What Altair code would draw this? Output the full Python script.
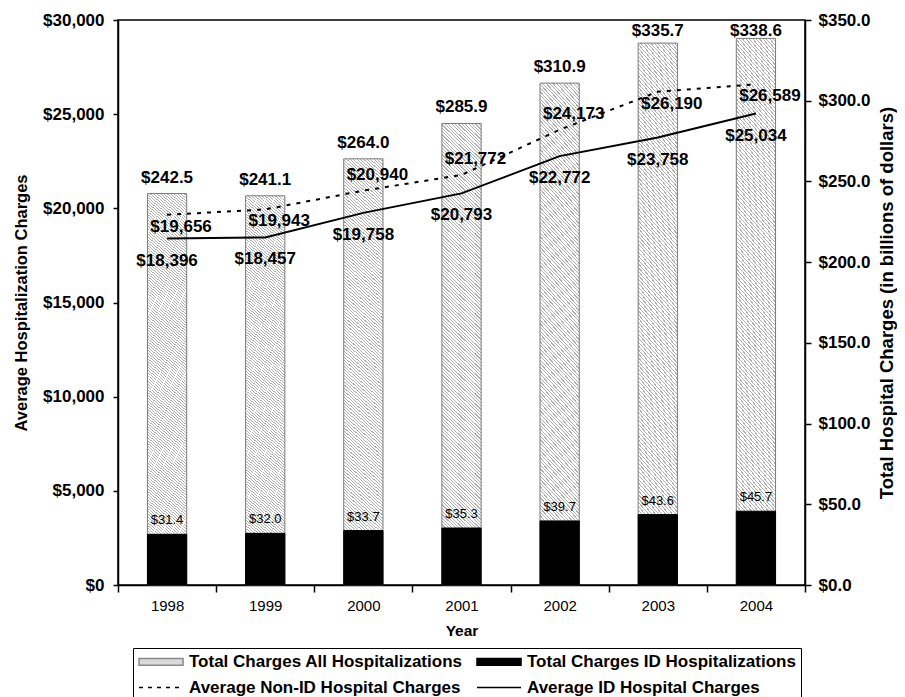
import altair as alt
import pandas as pd

# ---------------- data ----------------
years = ["1998", "1999", "2000", "2001", "2002", "2003", "2004"]
total_all = [242.5, 241.1, 264.0, 285.9, 310.9, 335.7, 338.6]      # billions
total_id = [31.4, 32.0, 33.7, 35.3, 39.7, 43.6, 45.7]               # billions
avg_nonid = [19656, 19943, 20940, 21772, 24173, 26190, 26589]
avg_id = [18396, 18457, 19758, 20793, 22772, 23758, 25034]
nonid_label_side = ["below", "below", "above", "above", "above", "below", "below"]

# legend order (laid out column by column: col 1 top/bottom, col 2 top/bottom)
series_names = [
    "Total Charges All Hospitalizations",
    "Average Non-ID Hospital Charges",
    "Total Charges ID Hospitalizations",
    "Average ID Hospital Charges",
]

df = pd.DataFrame({
    "year": years,
    "total_all": total_all,
    "total_id": total_id,
    "avg_nonid": avg_nonid,
    "avg_id": avg_id,
    "side": nonid_label_side,
})
legend_df = pd.DataFrame({"series": series_names})

FONT = "Liberation Sans"

# ---------------- hatch fill (diagonal stripes as a gradient) ----------------
N_STRIPES = 150
LINE_FRAC = 0.34
K = 12.0
S = (1 + K) / (1 + K * K)
stops = []
for i in range(N_STRIPES):
    o0 = round(i / N_STRIPES, 6)
    o1 = round((i + LINE_FRAC) / N_STRIPES, 6)
    o2 = round((i + 1) / N_STRIPES, 6)
    stops += [
        {"offset": o0, "color": "#b0b0b0"},
        {"offset": o1, "color": "#b0b0b0"},
        {"offset": o1, "color": "#ffffff"},
        {"offset": o2, "color": "#ffffff"},
    ]
hatch = {"gradient": "linear", "x1": 0, "y1": 1, "x2": S, "y2": 1 - S * K, "stops": stops}

# ---------------- shared encodings ----------------
def x_enc():
    return alt.X(
        "year:N", sort=years, title="Year",
        scale=alt.Scale(paddingInner=0, paddingOuter=0),
        axis=alt.Axis(labelAngle=0, tickBand="extent", tickSize=7, labelPadding=6,
                      labelFontSize=15, labelFontWeight="normal",
                      titleFontSize=15.5, titleY=45, titleBaseline="middle"),
    )

axis_r = alt.Axis(orient="right", values=list(range(0, 351, 50)), format="$,.1f",
                  title="Total Hospital Charges (in billions of dollars)",
                  titleAngle=270, titleX=81, titleBaseline="middle", titleFontSize=18.5,
                  tickSize=6, labelPadding=7)
axis_l = alt.Axis(orient="left", values=list(range(0, 30001, 5000)), format="$,.0f",
                  title="Average Hospitalization Charges",
                  titleAngle=270, titleX=-97, titleBaseline="middle", titleFontSize=16.5,
                  tickSize=5, labelPadding=9)

def y_r(field):
    return alt.Y(field, type="quantitative", scale=alt.Scale(domain=[0, 350]), axis=axis_r,
                 title="Total Hospital Charges (in billions of dollars)")

def y_l(field):
    return alt.Y(field, type="quantitative", scale=alt.Scale(domain=[0, 30000]), axis=axis_l,
                 title="Average Hospitalization Charges")

base = alt.Chart(df)

# ---------------- bars (right axis) ----------------
bar_all = base.mark_bar(width={"band": 0.4}, fill=hatch, stroke="#7a7a7a", strokeWidth=1).encode(
    x=x_enc(), y=y_r("total_all"))
bar_id = base.mark_bar(width={"band": 0.4}, fill="black", stroke="black", strokeWidth=1).encode(
    x=x_enc(), y=y_r("total_id"))
text_all = base.transform_calculate(label_y="min(datum.total_all, 333)").mark_text(
    dy=-16, baseline="middle", font=FONT, fontSize=17, fontWeight="bold", color="black").encode(
    x=x_enc(), y=y_r("label_y"), text=alt.Text("total_all:Q", format="$,.1f"))
text_id = base.mark_text(dy=-14, baseline="middle", font=FONT, fontSize=13, color="black").encode(
    x=x_enc(), y=y_r("total_id"), text=alt.Text("total_id:Q", format="$,.1f"))
bars_group = alt.layer(bar_all, bar_id, text_all, text_id)

# ---------------- lines (left axis) ----------------
line_nonid = base.mark_line(color="black", strokeWidth=2, strokeDash=[4, 6]).encode(
    x=x_enc(), y=y_l("avg_nonid"))
line_id = base.mark_line(color="black", strokeWidth=2).encode(
    x=x_enc(), y=y_l("avg_id"))
text_line_id = base.mark_text(dy=22, baseline="middle", font=FONT, fontSize=17, fontWeight="bold",
                              color="black").encode(
    x=x_enc(), y=y_l("avg_id"), text=alt.Text("avg_id:Q", format="$,.0f"))
text_nonid_below = base.transform_filter("datum.side == 'below'").mark_text(
    dx=14, dy=12, baseline="middle", font=FONT, fontSize=17, fontWeight="bold", color="black").encode(
    x=x_enc(), y=y_l("avg_nonid"), text=alt.Text("avg_nonid:Q", format="$,.0f"))
text_nonid_above = base.transform_filter("datum.side == 'above'").mark_text(
    dx=14, dy=-16, baseline="middle", font=FONT, fontSize=17, fontWeight="bold", color="black").encode(
    x=x_enc(), y=y_l("avg_nonid"), text=alt.Text("avg_nonid:Q", format="$,.0f"))
lines_group = alt.layer(line_nonid, line_id, text_line_id, text_nonid_below, text_nonid_above)

# ---------------- legend ----------------
RECT = "M-1,-0.45H4.87V0.45H-1Z"
LINE = "M-1,0H4.87"
leg = alt.Legend(orient="none", legendX=15, legendY=628, columns=2, title=None, symbolOpacity=1)
dummy = alt.Chart(legend_df).mark_point(opacity=0).encode(
    fill=alt.Fill("series:N", scale=alt.Scale(domain=series_names,
                  range=["#dadada", "transparent", "black", "transparent"]), legend=leg),
    stroke=alt.Stroke("series:N", scale=alt.Scale(domain=series_names,
                      range=["#8a8a8a", "black", "black", "black"]), legend=leg),
    shape=alt.Shape("series:N", scale=alt.Scale(domain=series_names,
                    range=[RECT, LINE, RECT, LINE]), legend=leg),
    strokeDash=alt.StrokeDash("series:N", scale=alt.Scale(domain=series_names,
                              range=[[1, 0], [4, 5], [1, 0], [1, 0]]), legend=leg),
)

chart = (
    alt.layer(bars_group, lines_group, dummy)
    .resolve_scale(y="independent")
    .properties(width=687, height=565,
                autosize=alt.AutoSizeParams(type="none"),
                padding={"left": 110, "top": 12, "right": 92, "bottom": 115})
    .configure_view(stroke="black", strokeWidth=1.5)
    .configure_axis(labelFont=FONT, labelFontSize=17, labelFontWeight="bold", labelColor="black",
                    titleFont=FONT, titleFontSize=16.5, titleFontWeight="bold", titleColor="black",
                    domainColor="black", domainWidth=1.5, tickColor="black", tickWidth=1.5,
                    grid=False)
    .configure_legend(labelFont=FONT, labelFontSize=17, labelFontWeight="bold", labelColor="black",
                      labelLimit=400, padding=5, rowPadding=8, columnPadding=11, labelOffset=34,
                      symbolSize=225, symbolStrokeWidth=1.5, strokeColor="black")
)

chart.save("out.html", embed_options={"renderer": "svg", "actions": False})
